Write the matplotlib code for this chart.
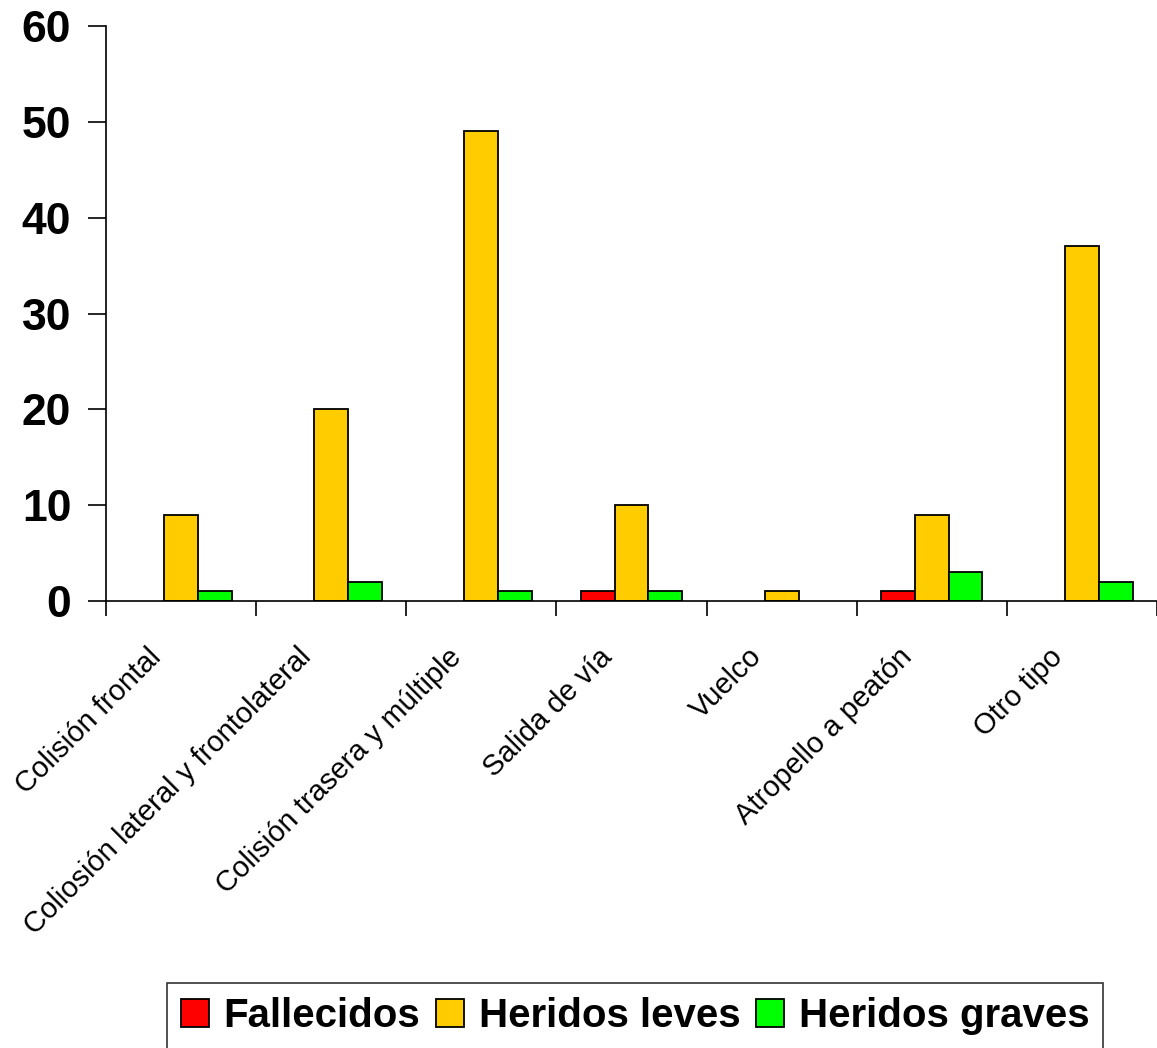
import numpy as np
import matplotlib.pyplot as plt
import matplotlib.transforms as mtransforms

categorias = ["Colisión frontal", "Coliosión lateral y frontolateral",
              "Colisión trasera y múltiple", "Salida de vía", "Vuelco",
              "Atropello a peatón", "Otro tipo"]
fallecidos = [0, 0, 0, 1, 0, 1, 0]
leves = [9, 20, 49, 10, 1, 9, 37]
graves = [1, 2, 1, 1, 0, 3, 2]
series = ["Fallecidos", "Heridos leves", "Heridos graves"]
colores = ["#ff0000", "#ffcc00", "#00ff00"]

fig = plt.figure(figsize=(11.57, 10.48), dpi=100)
ax = fig.add_axes([106/1157, 1-601/1048, 1-106/1157, (601-26)/1048])

x = np.arange(len(categorias))
w = 0.225
for i, (vals, lab, c) in enumerate(zip([fallecidos, leves, graves], series, colores)):
    v = np.array(vals, dtype=float)
    m = v > 0  # las barras vacías no se dibujan
    ax.bar(x[m] + (i-1)*w, v[m], w, color=c, edgecolor='black', linewidth=1.3, label=lab)

ax.set_xlim(-0.5, -0.5 + 1051/151)
ax.set_ylim(0, 60)
ax.set_yticks(range(0, 61, 10))
ax.set_yticklabels([str(t) for t in range(0, 61, 10)], fontsize=32,
                   fontweight='bold', family=['Liberation Sans', 'DejaVu Sans'])
ax.tick_params(axis='y', length=13, width=1.2, pad=12)

ax.set_xticks(x)
ax.set_xticklabels(categorias, rotation=45, ha='right', rotation_mode='anchor',
                   fontsize=21, family=['Liberation Sans', 'DejaVu Sans'])
ax.tick_params(axis='x', length=0, pad=30)
off = mtransforms.ScaledTranslation(-0.34, 0, fig.dpi_scale_trans)
for t in ax.get_xticklabels():
    t.set_transform(t.get_transform() + off)
ax.set_xticks(np.arange(len(categorias)+1) - 0.5, minor=True)
ax.tick_params(axis='x', which='minor', length=11, width=1.2)

for s in ['top', 'right']:
    ax.spines[s].set_visible(False)
ax.spines['left'].set_linewidth(1.2)
ax.spines['bottom'].set_linewidth(1.2)

leg = fig.legend(loc='upper left', bbox_to_anchor=(167/1157, 1-983/1048),
                 ncol=3, frameon=True, fancybox=False, edgecolor='black',
                 prop={'family': ['Liberation Sans', 'DejaVu Sans'],
                       'weight': 'bold', 'size': 29},
                 handlelength=0.7, handleheight=0.7, handletextpad=0.35,
                 columnspacing=0.4, borderpad=0.35, borderaxespad=0)
leg.get_frame().set_linewidth(1.2)

fig.savefig('out.png', dpi=100)
